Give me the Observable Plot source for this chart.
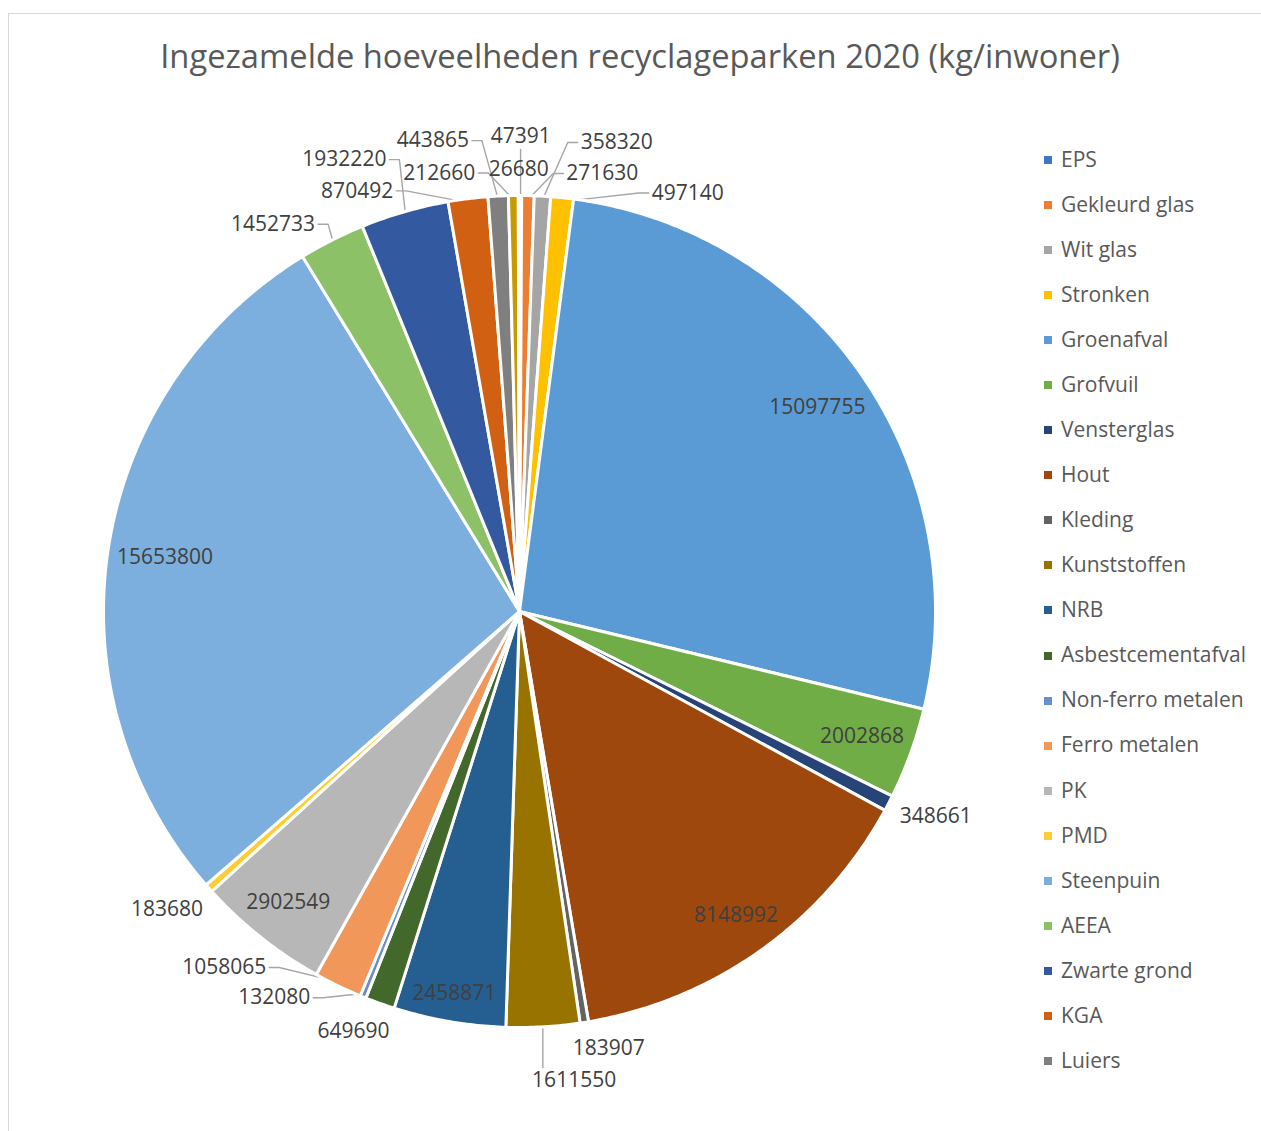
<!DOCTYPE html>
<html>
<head>
<meta charset="utf-8">
<script src="https://cdn.jsdelivr.net/npm/d3@7"></script>
<script src="https://cdn.jsdelivr.net/npm/@observablehq/plot@0.6"></script>
<style>
  html, body { margin: 0; padding: 0; background: #fff; }
  body { width: 1261px; height: 1131px; overflow: hidden; position: relative; font-family: "Open Sans", sans-serif; }
  #frame { position: absolute; left: 8px; top: 13px; width: 1300px; height: 1200px; border: 1px solid #d9d9d9; box-sizing: border-box; }
  #chart { position: absolute; left: 0; top: 0; }
  #title { position: absolute; left: 0; width: 1280px; text-align: center; color: #595959; white-space: nowrap; }
  .lg { position: absolute; left: 1044px; font-size: 21px; line-height: 21px; color: #595959; white-space: nowrap; }
  .lg span.sw { position: absolute; left: 0; width: 8px; height: 8px; }
  .lg span.tx { position: absolute; left: 17px; top: 0; }
</style>
</head>
<body>
<div id="frame"></div>
<div id="chart"></div>
<div id="title"></div>
<div id="legend"></div>
<script>
// ---- data ----
const titleText = "Ingezamelde hoeveelheden recyclageparken 2020 (kg/inwoner)";
const categories = ["EPS", "Gekleurd glas", "Wit glas", "Stronken", "Groenafval", "Grofvuil", "Vensterglas", "Hout", "Kleding", "Kunststoffen", "NRB", "Asbestcementafval", "Non-ferro metalen", "Ferro metalen", "PK", "PMD", "Steenpuin", "AEEA", "Zwarte grond", "KGA", "Luiers", "Categorie 22", "Categorie 23"];
const values = [47391, 271630, 358320, 497140, 15097755, 2002868, 348661, 8148992, 183907, 1611550, 2458871, 649690, 132080, 1058065, 2902549, 183680, 15653800, 1452733, 1932220, 870492, 443865, 212660, 26680];
const colors = ["#4472C4", "#ED7D31", "#A5A5A5", "#FFC000", "#5B9BD5", "#70AD47", "#264478", "#9E480E", "#636363", "#997300", "#255E91", "#43682B", "#698ED0", "#F1975A", "#B7B7B7", "#FFCD33", "#7CAFDD", "#8CC168", "#335AA1", "#D26012", "#7F7F7F", "#C99A00", "#4A8AC9"];
const legendShown = 21; // the legend in the reference lists the first 21 categories

// ---- layout ----
const W = 1261, H = 1131;
const cx = 519, cy = 611, R = 416;
const insideMin = 2000000;
const fontPx = 21, charW = 12.0, boxH = 24;

const rows = categories.map((name, i) => ({name, value: values[i]}));
const arcs = d3.pie().sort(null).value(d => d.value)(rows);
const midOf = i => (arcs[i].startAngle + arcs[i].endAngle) / 2;

// slice polygons
const slicePts = [];
arcs.forEach((a, i) => {
  const name = rows[i].name;
  slicePts.push({name, x: cx, y: cy});
  const n = Math.max(2, Math.ceil((a.endAngle - a.startAngle) / (Math.PI / 360)));
  for (let k = 0; k <= n; k++) {
    const t = a.startAngle + (a.endAngle - a.startAngle) * k / n;
    slicePts.push({name, x: cx + R * Math.sin(t), y: cy - R * Math.cos(t)});
  }
});

// inside labels: pushed out along the mid-angle until the box meets the rim
const labels = [];
const placed = [];
const outside = [];
const leaders = [];
arcs.forEach((a, i) => {
  if (rows[i].value < insideMin) return;
  const mid = midOf(i);
  const text = String(rows[i].value);
  const w = text.length * charW;
  const s = Math.sin(mid), c = -Math.cos(mid);
  const ox = Math.sign(s) * w / 2, oy = Math.sign(c) * boxH / 2;
  const Rin = R - 8;
  const bq = s * ox + c * oy, cq = ox * ox + oy * oy - Rin * Rin;
  const r = -bq + Math.sqrt(bq * bq - cq);
  const x = cx + r * s, y = cy + r * c;
  labels.push({x, y, text});
  placed.push({x0: x - w / 2, x1: x + w / 2, y0: y - boxH / 2, y1: y + boxH / 2});
});

// outside labels: nearest free spot on the slice's own side, keeping the slice order
const wrap = a => { while (a <= -Math.PI) a += 2 * Math.PI; while (a > Math.PI) a -= 2 * Math.PI; return a; };
function fits(b, mid, ang, padX, padY, ordered) {
  if (b.x0 < 15 || b.x1 > 1025 || b.y0 < 86 || b.y1 > 1122) return false;
  const nx = Math.max(b.x0, Math.min(cx, b.x1)), ny = Math.max(b.y0, Math.min(cy, b.y1));
  if (Math.hypot(nx - cx, ny - cy) < R + 10) return false;
  for (const p of placed) {
    if (b.x0 < p.x1 + padX && b.x1 > p.x0 - padX && b.y0 < p.y1 + padY && b.y1 > p.y0 - padY) return false;
  }
  if (ordered) {
    for (const o of outside) {
      if (Math.abs(wrap(o.mid - mid)) > Math.PI / 3) continue;
      if ((mid - o.mid) * (ang - o.ang) < 0) return false;
    }
  }
  return true;
}
function search(mid, w, ex, side, padX, padY, ordered) {
  let best = null;
  for (let dr = 0; dr <= 320; dr += 3) {
    for (let da = -75; da <= 75; da += 1) {
      const cost = dr + 4 * Math.abs(da);
      if (best && cost >= best.cost) continue;
      const t = mid + da * Math.PI / 180;
      const pr = R + 14 + dr;
      const px = cx + pr * Math.sin(t), py = cy - pr * Math.cos(t);
      const bx = px + Math.sin(t) * w / 2, by = py - Math.cos(t) * boxH / 2;
      const b = {x0: bx - w / 2, x1: bx + w / 2, y0: by - boxH / 2, y1: by + boxH / 2};
      if (side > 0 && b.x0 < ex - 12) continue;
      if (side < 0 && b.x1 > ex + 12) continue;
      const ang = mid + wrap(Math.atan2(bx - cx, cy - by) - mid);
      if (!fits(b, mid, ang, padX, padY, ordered)) continue;
      best = {cost, bx, by, b, dr, da, ang};
    }
  }
  return best;
}
// lower half in slice order; upper half from the vertical axis outwards
const small = d3.range(arcs.length).filter(i => rows[i].value < insideMin);
const lower = small.filter(i => Math.cos(midOf(i)) <= 0);
const upper = small.filter(i => Math.cos(midOf(i)) > 0)
  .sort((i, j) => Math.abs(Math.sin(midOf(i))) - Math.abs(Math.sin(midOf(j))));
for (const i of [...lower, ...upper]) {
  const mid = midOf(i);
  const text = String(rows[i].value);
  const w = text.length * charW;
  const ex = cx + (R - 4) * Math.sin(mid), ey = cy - (R - 4) * Math.cos(mid);
  const side = Math.sin(mid) > 0.01 ? 1 : Math.sin(mid) < -0.01 ? -1 : 0;
  const best = search(mid, w, ex, side, 10, 6, true)
    || search(mid, w, ex, side, 6, 3, true)
    || search(mid, w, ex, 0, 4, 2, false);
  if (!best) continue;
  placed.push(best.b);
  outside.push({mid, ang: best.ang});
  labels.push({x: best.bx, y: best.by, text});
  if (best.dr > 10 || Math.abs(best.da) > 3) {
    const id = rows[i].name;
    const b = best.b;
    if (ex > b.x0 + 6 && ex < b.x1 - 6) {
      const ty = best.by < ey ? b.y1 + 1 : b.y0 - 1;
      leaders.push({id, x: ex, y: ey}, {id, x: ex, y: ty});
    } else if (b.x0 >= ex) {
      const tx = b.x0 - 3;
      leaders.push({id, x: ex, y: ey}, {id, x: tx - 10, y: best.by}, {id, x: tx, y: best.by});
    } else {
      const tx = b.x1 + 3;
      leaders.push({id, x: ex, y: ey}, {id, x: tx + 10, y: best.by}, {id, x: tx, y: best.by});
    }
  }
}

const chart = Plot.plot({
  width: W, height: H,
  margin: 0,
  x: {type: "linear", domain: [0, W], range: [0, W], axis: null},
  y: {type: "linear", domain: [0, H], range: [0, H], axis: null},
  color: {type: "ordinal", domain: categories, range: colors},
  style: {background: "transparent", overflow: "visible"},
  marks: [
    Plot.line(leaders, {x: "x", y: "y", z: "id", stroke: "#a6a6a6", strokeWidth: 1.4}),
    Plot.line(slicePts, {x: "x", y: "y", z: "name", fill: "name", stroke: "white", strokeWidth: 3, strokeLinejoin: "round", curve: "linear-closed"}),
    Plot.text(labels, {x: "x", y: "y", text: "text", fill: "#404040", fontSize: fontPx, fontFamily: "Open Sans", textAnchor: "middle", lineAnchor: "middle"})
  ]
});
document.getElementById("chart").appendChild(chart);

// title sized to the reference width
const ctx = document.createElement("canvas").getContext("2d");
ctx.font = "100px 'Open Sans'";
const fs = 100 * 960 / ctx.measureText(titleText).width;
const t = document.getElementById("title");
t.textContent = titleText;
t.style.fontSize = fs + "px";
t.style.lineHeight = fs + "px";
t.style.top = (57 - 0.531 * fs) + "px";

// legend
const lg = document.getElementById("legend");
for (let i = 0; i < legendShown; i++) {
  const yc = 160 + 45.05 * i;
  const d = document.createElement("div");
  d.className = "lg";
  d.style.top = (yc - 11.2) + "px";
  const sw = document.createElement("span");
  sw.className = "sw";
  sw.style.background = colors[i];
  sw.style.top = (11.2 - 4) + "px";
  const tx = document.createElement("span");
  tx.className = "tx";
  tx.textContent = categories[i];
  d.appendChild(sw); d.appendChild(tx);
  lg.appendChild(d);
}
</script>
</body>
</html>
